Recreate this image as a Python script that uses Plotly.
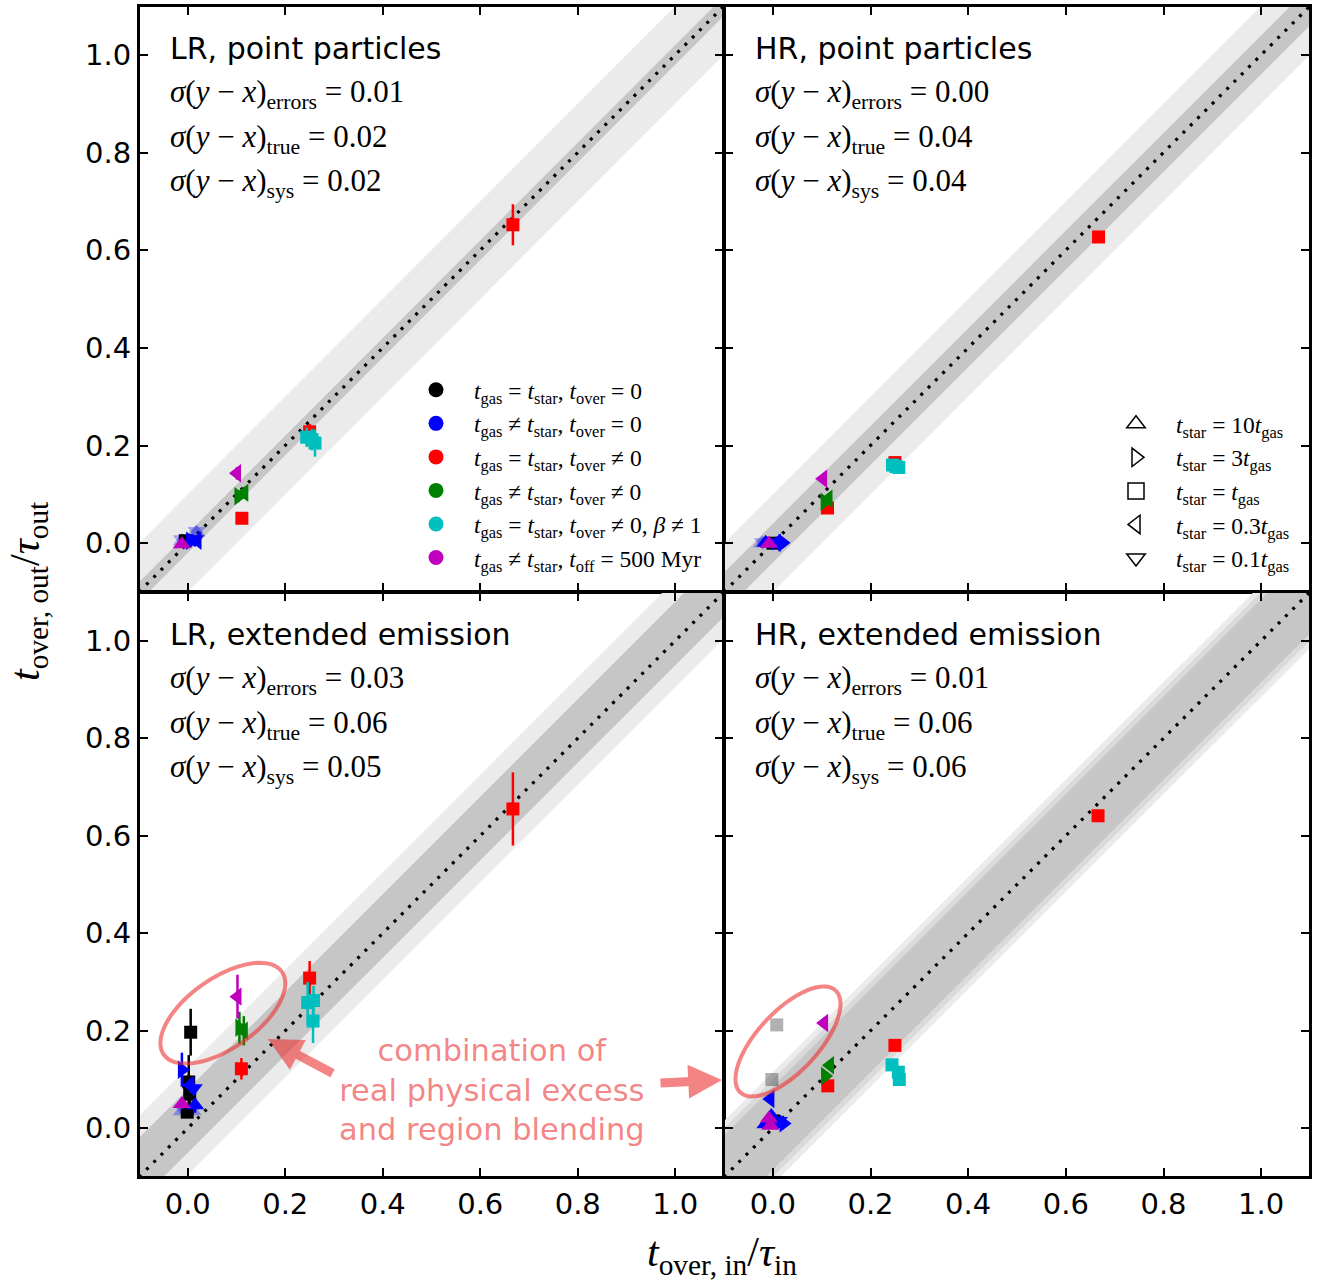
import numpy as np
import plotly.graph_objects as go

# ---------------- data ----------------
AX_RANGE = [-0.1, 1.1]
TICKS = [0.0, 0.2, 0.4, 0.6, 0.8, 1.0]
TICK_TEXT = ["0.0", "0.2", "0.4", "0.6", "0.8", "1.0"]

PANEL_TITLES = ["LR, point particles", "HR, point particles",
                "LR, extended emission", "HR, extended emission"]
SIG_ERRORS = ["0.01", "0.00", "0.03", "0.01"]
SIG_TRUE = ["0.02", "0.04", "0.06", "0.06"]
SIG_SYS = ["0.02", "0.04", "0.05", "0.06"]

# bands around y = x : (lower offset, upper offset) per level
BANDS_TL = [(-0.10, 0.10), (-0.02, 0.02)]
BANDS_TR = [(-0.10, 0.10), (-0.04, 0.04)]
BANDS_BL = [(-0.095, 0.125), (-0.05, 0.08)]
BANDS_BR = [(-0.115, 0.115), (-0.10, 0.10), (-0.085, 0.085)]

# case key: k,b,r,g,c,m ; ratio key: t_star/t_gas
# LR point particles
TL_case = ['k', 'b', 'b', 'b', 'b', 'm', 'g', 'g', 'm', 'r', 'r', 'c', 'c', 'c', 'r']
TL_ratio = ['1', '3', '0.3', '10', '0.1', '10', '3', '0.3', '0.3', '1', '1', '1', '1', '1', '1']
TL_x = [-0.005, 0.005, 0.020, 0.010, 0.015, -0.012, 0.104, 0.116, 0.101, 0.111, 0.250, 0.244, 0.255, 0.261, 0.667]
TL_y = [0.005, 0.005, 0.005, 0.003, 0.008, -0.002, 0.096, 0.103, 0.143, 0.051, 0.228, 0.217, 0.212, 0.205, 0.652]
TL_err = [0.004, 0.005, 0.008, 0.006, 0.006, 0.004, 0.012, 0.012, 0.013, 0.005, 0.016, 0.020, 0.022, 0.028, 0.042]
TL_faded_case = ['b', 'b', 'b', 'b']
TL_faded_ratio = ['10', '0.1', '10', '0.1']
TL_faded_x = [-0.012, -0.012, 0.018, 0.018]
TL_faded_y = [0.004, 0.008, 0.022, 0.025]

# HR point particles
TR_case = ['k', 'b', 'b', 'b', 'b', 'm', 'g', 'g', 'm', 'r', 'r', 'c', 'c', 'c', 'r']
TR_ratio = ['1', '10', '3', '0.3', '0.1', '10', '3', '0.3', '0.3', '1', '1', '1', '1', '1', '1']
TR_x = [0.000, -0.015, 0.020, 0.008, 0.000, -0.008, 0.106, 0.114, 0.103, 0.112, 0.250, 0.245, 0.252, 0.258, 0.667]
TR_y = [0.000, 0.001, 0.001, 0.001, 0.002, -0.001, 0.085, 0.091, 0.132, 0.072, 0.165, 0.160, 0.157, 0.155, 0.627]
TR_err = [0.002, 0.002, 0.002, 0.002, 0.002, 0.002, 0.004, 0.004, 0.004, 0.004, 0.005, 0.004, 0.004, 0.004, 0.008]
TR_faded_case = ['b', 'b']
TR_faded_ratio = ['10', '0.1']
TR_faded_x = [-0.022, -0.020]
TR_faded_y = [0.000, 0.002]

# LR extended emission
BL_case = ['k', 'k', 'k', 'k', 'b', 'b', 'b', 'b', 'm', 'r', 'g', 'g', 'm', 'r', 'c', 'c', 'c', 'r']
BL_ratio = ['1', '1', '1', '1', '3', '0.3', '0.1', '10', '10', '1', '3', '0.3', '0.3', '1', '1', '1', '1', '1']
BL_x = [0.002, 0.004, -0.001, 0.006, -0.012, 0.005, 0.012, 0.015, -0.012, 0.110, 0.106, 0.115, 0.102, 0.250, 0.246, 0.258, 0.257, 0.667]
BL_y = [0.095, 0.070, 0.033, 0.197, 0.120, 0.088, 0.082, 0.047, 0.050, 0.122, 0.206, 0.200, 0.270, 0.308, 0.258, 0.262, 0.220, 0.655]
BL_err = [0.055, 0.020, 0.012, 0.048, 0.035, 0.015, 0.012, 0.015, 0.010, 0.022, 0.033, 0.030, 0.045, 0.035, 0.042, 0.030, 0.045, 0.075]
BL_faded_case = ['b', 'b', 'b', 'b']
BL_faded_ratio = ['10', '0.1', '10', '0.1']
BL_faded_x = [-0.012, -0.010, 0.010, 0.008]
BL_faded_y = [0.035, 0.040, 0.035, 0.040]

# HR extended emission
BR_case = ['k', 'b', 'b', 'b', 'b', 'b', 'm', 'm', 'm', 'g', 'g', 'r', 'r', 'c', 'c', 'c', 'r']
BR_ratio = ['1', '0.3', '10', '10', '3', '0.1', '10', '10', '0.3', '0.3', '3', '1', '1', '1', '1', '1', '1']
BR_x = [0.001, -0.005, -0.015, -0.003, 0.022, 0.012, -0.008, -0.005, 0.105, 0.117, 0.107, 0.1125, 0.250, 0.244, 0.257, 0.259, 0.666]
BR_y = [0.015, 0.060, 0.008, 0.025, 0.010, 0.015, 0.020, 0.005, 0.216, 0.129, 0.107, 0.087, 0.170, 0.130, 0.115, 0.100, 0.641]
BR_err = [0.010, 0.005, 0.005, 0.005, 0.005, 0.005, 0.004, 0.004, 0.005, 0.005, 0.005, 0.005, 0.005, 0.005, 0.005, 0.005, 0.008]
BR_faded_case = ['k', 'k']
BR_faded_ratio = ['1', '1']
BR_faded_x = [0.008, -0.002]
BR_faded_y = [0.212, 0.100]

CASE_KEYS = ['k', 'b', 'r', 'g', 'c', 'm']
CASE_LABELS = [
    "<i>t</i><sub>gas</sub> = <i>t</i><sub>star</sub>, <i>t</i><sub>over</sub> = 0",
    "<i>t</i><sub>gas</sub> ≠ <i>t</i><sub>star</sub>, <i>t</i><sub>over</sub> = 0",
    "<i>t</i><sub>gas</sub> = <i>t</i><sub>star</sub>, <i>t</i><sub>over</sub> ≠ 0",
    "<i>t</i><sub>gas</sub> ≠ <i>t</i><sub>star</sub>, <i>t</i><sub>over</sub> ≠ 0",
    "<i>t</i><sub>gas</sub> = <i>t</i><sub>star</sub>, <i>t</i><sub>over</sub> ≠ 0, <i>β</i> ≠ 1",
    "<i>t</i><sub>gas</sub> ≠ <i>t</i><sub>star</sub>, <i>t</i><sub>off</sub> = 500 Myr",
]
RATIO_KEYS = ['10', '3', '1', '0.3', '0.1']
RATIO_LABELS = [
    "<i>t</i><sub>star</sub> = 10<i>t</i><sub>gas</sub>",
    "<i>t</i><sub>star</sub> = 3<i>t</i><sub>gas</sub>",
    "<i>t</i><sub>star</sub> = <i>t</i><sub>gas</sub>",
    "<i>t</i><sub>star</sub> = 0.3<i>t</i><sub>gas</sub>",
    "<i>t</i><sub>star</sub> = 0.1<i>t</i><sub>gas</sub>",
]

# ---------------- styles ----------------
CASE_COLORS = {'k': '#000000', 'b': '#0000ff', 'r': '#ff0000',
               'g': '#008000', 'c': '#00bfbf', 'm': '#bf00bf'}
RATIO_SYMBOLS = {'10': 'triangle-up', '3': 'triangle-right', '1': 'square',
                 '0.3': 'triangle-left', '0.1': 'triangle-down'}
RATIO_SIZES = {'10': 16, '3': 16, '1': 13, '0.3': 16, '0.1': 16}
BAND_COLORS_2 = ['#ebebeb', '#c6c6c6']
BAND_COLORS_3 = ['#ebebeb', '#dadada', '#c6c6c6']
SERIF = "Liberation Serif"
SANS = "DejaVu Sans"
HL = "rgba(238,50,50,0.6)"

W, H = 1323, 1283
L, R, T, B = 139, 13, 6, 106
PW, PH = W - L - R, H - T - B
XS = 585 / PW
YS = 585 / PH


def px2paper(px, py):
    return (px - L) / PW, (H - B - py) / PH


panels = [
    dict(xa='x', ya='y', bands=BANDS_TL, case=TL_case, ratio=TL_ratio, x=TL_x, y=TL_y, err=TL_err,
         fc=TL_faded_case, fr=TL_faded_ratio, fx=TL_faded_x, fy=TL_faded_y),
    dict(xa='x2', ya='y2', bands=BANDS_TR, case=TR_case, ratio=TR_ratio, x=TR_x, y=TR_y, err=TR_err,
         fc=TR_faded_case, fr=TR_faded_ratio, fx=TR_faded_x, fy=TR_faded_y),
    dict(xa='x3', ya='y3', bands=BANDS_BL, case=BL_case, ratio=BL_ratio, x=BL_x, y=BL_y, err=BL_err,
         fc=BL_faded_case, fr=BL_faded_ratio, fx=BL_faded_x, fy=BL_faded_y),
    dict(xa='x4', ya='y4', bands=BANDS_BR, case=BR_case, ratio=BR_ratio, x=BR_x, y=BR_y, err=BR_err,
         fc=BR_faded_case, fr=BR_faded_ratio, fx=BR_faded_x, fy=BR_faded_y),
]

fig = go.Figure()
ext = [AX_RANGE[0] - 0.2, AX_RANGE[1] + 0.2]
for p in panels:
    cols = BAND_COLORS_3 if len(p['bands']) == 3 else BAND_COLORS_2
    for (lo, hi), col in zip(p['bands'], cols):
        fig.add_trace(go.Scatter(
            x=[ext[0], ext[1], ext[1], ext[0], ext[0]],
            y=[ext[0] + hi, ext[1] + hi, ext[1] + lo, ext[0] + lo, ext[0] + hi],
            fill='toself', fillcolor=col, mode='lines', line=dict(width=0),
            hoverinfo='skip', showlegend=False, xaxis=p['xa'], yaxis=p['ya']))
    fig.add_trace(go.Scatter(
        x=AX_RANGE, y=AX_RANGE, mode='lines',
        line=dict(color='black', width=3.2, dash='3px,7.3px'),
        hoverinfo='skip', showlegend=False, xaxis=p['xa'], yaxis=p['ya']))
    # faded points
    for c, r, xx, yy in zip(p['fc'], p['fr'], p['fx'], p['fy']):
        fig.add_trace(go.Scatter(
            x=[xx], y=[yy], mode='markers', opacity=0.3,
            marker=dict(color=CASE_COLORS[c], symbol=RATIO_SYMBOLS[r], size=RATIO_SIZES[r], line=dict(width=0)),
            error_y=dict(type='data', array=[0.01], color=CASE_COLORS[c], thickness=2.5, width=0),
            showlegend=False, xaxis=p['xa'], yaxis=p['ya']))
    # main points, ordered by case
    for ck in CASE_KEYS:
        for rk in RATIO_KEYS:
            idx = [i for i in range(len(p['case'])) if p['case'][i] == ck and p['ratio'][i] == rk]
            if not idx:
                continue
            fig.add_trace(go.Scatter(
                x=[p['x'][i] for i in idx], y=[p['y'][i] for i in idx], mode='markers',
                marker=dict(color=CASE_COLORS[ck], symbol=RATIO_SYMBOLS[rk], size=RATIO_SIZES[rk],
                            line=dict(width=0)),
                error_y=dict(type='data', array=[p['err'][i] for i in idx], color=CASE_COLORS[ck],
                             thickness=2.5, width=0),
                showlegend=False, xaxis=p['xa'], yaxis=p['ya']))

# legends
for ck, lab in zip(CASE_KEYS, CASE_LABELS):
    fig.add_trace(go.Scatter(x=[None], y=[None], mode='markers', name=lab,
                             marker=dict(color=CASE_COLORS[ck], symbol='circle', size=15),
                             legend='legend', xaxis='x', yaxis='y'))
for rk, lab in zip(RATIO_KEYS, RATIO_LABELS):
    fig.add_trace(go.Scatter(x=[None], y=[None], mode='markers', name=lab,
                             marker=dict(color='black', symbol=RATIO_SYMBOLS[rk] + '-open', size=21,
                                         line=dict(color='black', width=1.5)),
                             legend='legend2', xaxis='x2', yaxis='y2'))

axis_common = dict(range=AX_RANGE, tickvals=TICKS, ticktext=TICK_TEXT, ticks='inside', ticklen=9,
                   tickwidth=1.5, tickcolor='black', showline=True, linewidth=2, linecolor='black',
                   mirror='ticks', showgrid=False, zeroline=False, automargin=False, tickangle=0,
                   tickfont=dict(family=SANS, size=29, color='black'))

lx1, ly1 = px2paper(398, 368)
lx2, ly2 = px2paper(1096, 402)
fig.update_layout(
    width=W, height=H, plot_bgcolor='white', paper_bgcolor='white',
    margin=dict(l=L, r=R, t=T, b=B, autoexpand=False),
    xaxis=dict(axis_common, domain=[0, XS], anchor='y', showticklabels=False),
    yaxis=dict(axis_common, domain=[YS, 1], anchor='x'),
    xaxis2=dict(axis_common, domain=[XS, 1], anchor='y2', showticklabels=False),
    yaxis2=dict(axis_common, domain=[YS, 1], anchor='x2', showticklabels=False),
    xaxis3=dict(axis_common, domain=[0, XS], anchor='y3'),
    yaxis3=dict(axis_common, domain=[0, YS], anchor='x3'),
    xaxis4=dict(axis_common, domain=[XS, 1], anchor='y4'),
    yaxis4=dict(axis_common, domain=[0, YS], anchor='x4', showticklabels=False),
    legend=dict(x=lx1, y=ly1, xref='paper', yref='paper', xanchor='left', yanchor='top',
                bgcolor='rgba(0,0,0,0)', font=dict(family=SERIF, size=23.5, color='black'),
                itemsizing='trace', itemwidth=66),
    legend2=dict(x=lx2, y=ly2, xref='paper', yref='paper', xanchor='left', yanchor='top',
                 bgcolor='rgba(0,0,0,0)', font=dict(family=SERIF, size=23.5, color='black'),
                 itemsizing='trace', itemwidth=70),
)

# panel frames
for xa, ya in [('x', 'y'), ('x2', 'y2'), ('x3', 'y3'), ('x4', 'y4')]:
    fig.add_shape(type='rect', xref=f'{xa} domain', yref=f'{ya} domain', x0=0, x1=1, y0=0, y1=1,
                  line=dict(color='black', width=2), layer='above')

# panel texts
refs = [('x domain', 'y domain'), ('x2 domain', 'y2 domain'), ('x3 domain', 'y3 domain'), ('x4 domain', 'y4 domain')]
for k, (xr, yr) in enumerate(refs):
    fig.add_annotation(x=0.05, y=0.928, xref=xr, yref=yr, text=PANEL_TITLES[k], showarrow=False,
                       xanchor='left', yanchor='middle', font=dict(family=SANS, size=30, color='black'))
    rows = [("errors", SIG_ERRORS[k]), ("true", SIG_TRUE[k]), ("sys", SIG_SYS[k])]
    for j, (sub, val) in enumerate(rows):
        fig.add_annotation(x=0.05, y=0.849 - 0.0755 * j, xref=xr, yref=yr,
                           text=f"<i>σ</i>(<i>y</i> − <i>x</i>)<sub>{sub}</sub> = {val}",
                           showarrow=False, xanchor='left', yanchor='middle',
                           font=dict(family=SERIF, size=31, color='black'))

# axis titles
px, py = px2paper(28, 592)
fig.add_annotation(x=px, y=py, xref='paper', yref='paper', textangle=-90, showarrow=False,
                   xanchor='center', yanchor='middle',
                   text="<i>t</i><sub>over, out</sub>/<i>τ</i><sub>out</sub>",
                   font=dict(family=SERIF, size=42, color='black'))
px, py = px2paper(722, 1283)
fig.add_annotation(x=px, y=py, xref='paper', yref='paper', showarrow=False,
                   xanchor='center', yanchor='bottom',
                   text="<i>t</i><sub>over, in</sub>/<i>τ</i><sub>in</sub>",
                   font=dict(family=SERIF, size=42, color='black'))

# highlight ellipses
def ellipse_path(cx, cy, a, b, ang_deg, n=80):
    t = np.linspace(0, 2 * np.pi, n)
    th = np.deg2rad(ang_deg)
    xs = cx + a * np.cos(th) * np.cos(t) - b * np.sin(th) * np.sin(t)
    ys = cy + a * np.sin(th) * np.cos(t) + b * np.cos(th) * np.sin(t)
    return "M " + " L ".join(f"{u:.4f},{v:.4f}" for u, v in zip(xs, ys)) + " Z"

fig.add_shape(type='path', xref='x3', yref='y3', path=ellipse_path(0.072, 0.236, 0.148, 0.072, 35),
              line=dict(color=HL, width=4))
fig.add_shape(type='path', xref='x4', yref='y4', path=ellipse_path(0.031, 0.178, 0.143, 0.062, 47),
              line=dict(color=HL, width=4))

px, py = px2paper(492, 1090)
fig.add_annotation(x=px, y=py, xref='paper', yref='paper', showarrow=False,
                   xanchor='center', yanchor='middle',
                   text="combination of<br>real physical excess<br>and region blending",
                   font=dict(family=SANS, size=30.5, color='rgba(238,80,80,0.7)'))
px, py = px2paper(268, 1039)
fig.add_annotation(x=px, y=py, xref='paper', yref='paper', text='', showarrow=True, ax=66, ay=35,
                   arrowhead=2, arrowsize=0.75, arrowwidth=9, arrowcolor=HL)
px, py = px2paper(722, 1080)
fig.add_annotation(x=px, y=py, xref='paper', yref='paper', text='', showarrow=True, ax=-63, ay=3,
                   arrowhead=2, arrowsize=0.75, arrowwidth=9, arrowcolor=HL)

fig.write_html("out.html")
